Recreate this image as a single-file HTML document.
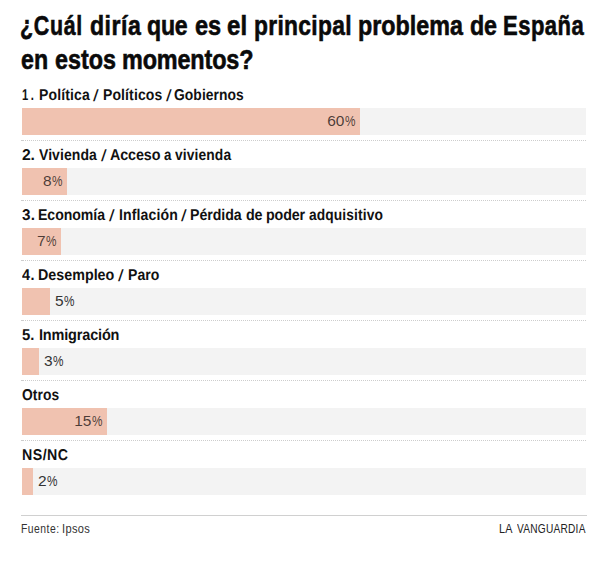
<!DOCTYPE html>
<html lang="es">
<head>
<meta charset="utf-8">
<title>¿Cuál diría que es el principal problema de España en estos momentos?</title>
<style>
  html, body { margin: 0; padding: 0; background: #fff; }
  body { width: 608px; height: 563px; position: relative; overflow: hidden;
         font-family: "Liberation Sans", Arial, sans-serif; color: #111; }
  .w { position: absolute; top: 0; white-space: nowrap; transform-origin: 0 0; }
  h1.title { position: absolute; left: 0; top: 9px; width: 608px; height: 68px; margin: 0;
             font-size: 28px; line-height: 34px; font-weight: 700; color: #0a0a0a;
             -webkit-text-stroke: 0.6px #0a0a0a; }
  h1.title .ln { position: absolute; left: 0; width: 608px; height: 34px; }
  .row { position: absolute; left: 22px; width: 564px; height: 60px; }
  .lbl { position: absolute; left: -22px; top: 1px; width: 608px; height: 16px;
         font-size: 15.6px; line-height: 16px; font-weight: 700; color: #111;
         text-rendering: geometricPrecision; }
  .sl { font-weight: 400; transform: translateY(0.6px) scale(1.3, 1.04); }
  .track { position: absolute; left: 0; top: 21px; width: 564px; height: 27px; background: #f3f3f3; }
  .bar { position: absolute; left: 0; top: 0; height: 27px; background: #f0c2b0; }
  .val { position: absolute; top: -1px; height: 27px; line-height: 27px; font-size: 15.5px;
         color: #333; white-space: nowrap; }
  .val.in { color: rgba(0,0,0,0.7); }
  .pc { display: inline-block; transform-origin: 0 50%; transform: scaleX(0.76); margin-right: -2.8px; }
  .sep { position: absolute; left: -1px; top: 53px; width: 566px; height: 1px;
         background: linear-gradient(to right, #cdcdcd 0 3px, transparent 3px) no-repeat,
                     repeating-linear-gradient(to right, #cdcdcd 0 1px, transparent 1px 2px); }
  .foot-line { position: absolute; left: 21px; top: 515px; width: 566px; height: 1px; background: #d0d0d0; }
  .foot { position: absolute; left: 0; top: 521px; width: 608px; height: 15px;
          font-size: 13px; line-height: 15px; color: #333; }
  .foot.brand { color: #222; }
</style>
</head>
<body>
  <h1 class="title">
    <div class="ln" style="top:0"><span class="w" style="left:20.28px;letter-spacing:0.89px;transform:scaleX(0.765)">¿Cuál</span> <span class="w" style="left:89.73px;letter-spacing:0.60px;transform:scaleX(0.825)">diría</span> <span class="w" style="left:147.22px;letter-spacing:-0.22px;transform:scaleX(0.825)">que</span> <span class="w" style="left:194.81px;letter-spacing:-0.21px;transform:scaleX(0.841)">es</span> <span class="w" style="left:227.26px;letter-spacing:0.16px;transform:scaleX(0.858)">el</span> <span class="w" style="left:253.99px;letter-spacing:0.40px;transform:scaleX(0.814)">principal</span> <span class="w" style="left:357.93px;letter-spacing:0.03px;transform:scaleX(0.832)">problema</span> <span class="w" style="left:469.98px;letter-spacing:-0.17px;transform:scaleX(0.831)">de</span> <span class="w" style="left:502.67px;letter-spacing:0.63px;transform:scaleX(0.786)">España</span></div>
    <div class="ln" style="top:34px"><span class="w" style="left:21.26px;transform:scaleX(0.828)">en</span> <span class="w" style="left:54.94px;transform:scaleX(0.833)">estos</span> <span class="w" style="left:122.18px;letter-spacing:-0.18px;transform:scaleX(0.836)">momentos?</span></div>
  </h1>

  <div class="row" style="top:87px">
    <div class="lbl"><span class="w" style="left:22.29px;letter-spacing:3.57px;transform:scaleX(0.721)">1.</span> <span class="w" style="left:38.78px;letter-spacing:0.17px;transform:scaleX(0.896)">Política</span> <span class="w sl" style="left:93.44px">/</span> <span class="w" style="left:102.88px;letter-spacing:0.12px;transform:scaleX(0.898)">Políticos</span> <span class="w sl" style="left:165.62px">/</span> <span class="w" style="left:174.45px;letter-spacing:0.06px;transform:scaleX(0.889)">Gobiernos</span></div>
    <div class="track"><div class="bar" style="width:338px"></div>
      <div class="val in" style="right:230.5px">60<span class="pc">%</span></div></div>
    <div class="sep"></div>
  </div>

  <div class="row" style="top:147px">
    <div class="lbl"><span class="w" style="left:21.92px;letter-spacing:-0.15px;transform:scaleX(1.006)">2.</span> <span class="w" style="left:39.17px;letter-spacing:0.09px;transform:scaleX(0.897)">Vivienda</span> <span class="w sl" style="left:100.77px">/</span> <span class="w" style="left:109.91px;letter-spacing:-0.14px;transform:scaleX(0.920)">Acceso</span> <span class="w" style="left:164.06px;transform:scaleX(0.852)">a</span> <span class="w" style="left:175.35px;letter-spacing:0.12px;transform:scaleX(0.887)">vivienda</span></div>
    <div class="track"><div class="bar" style="width:45px"></div>
      <div class="val in" style="right:523.5px">8<span class="pc">%</span></div></div>
    <div class="sep"></div>
  </div>

  <div class="row" style="top:207px">
    <div class="lbl"><span class="w" style="left:21.93px;letter-spacing:0.15px;transform:scaleX(0.978)">3.</span> <span class="w" style="left:37.78px;letter-spacing:-0.03px;transform:scaleX(0.902)">Economía</span> <span class="w sl" style="left:109.02px">/</span> <span class="w" style="left:118.53px;letter-spacing:0.14px;transform:scaleX(0.902)">Inflación</span> <span class="w sl" style="left:180.75px">/</span> <span class="w" style="left:190.31px;letter-spacing:-0.05px;transform:scaleX(0.908)">Pérdida</span> <span class="w" style="left:245.69px;letter-spacing:-0.19px;transform:scaleX(0.917)">de</span> <span class="w" style="left:265.78px;letter-spacing:-0.13px;transform:scaleX(0.914)">poder</span> <span class="w" style="left:308.86px;letter-spacing:0.12px;transform:scaleX(0.884)">adquisitivo</span></div>
    <div class="track"><div class="bar" style="width:39px"></div>
      <div class="val in" style="right:529.5px">7<span class="pc">%</span></div></div>
    <div class="sep"></div>
  </div>

  <div class="row" style="top:267px">
    <div class="lbl"><span class="w" style="left:22.16px;letter-spacing:0.53px;transform:scaleX(0.926)">4.</span> <span class="w" style="left:38.23px;transform:scaleX(0.917)">Desempleo</span> <span class="w sl" style="left:118.06px">/</span> <span class="w" style="left:127.54px;letter-spacing:0.10px;transform:scaleX(0.899)">Paro</span></div>
    <div class="track"><div class="bar" style="width:28px"></div>
      <div class="val" style="left:33px">5<span class="pc">%</span></div></div>
    <div class="sep"></div>
  </div>

  <div class="row" style="top:327px">
    <div class="lbl"><span class="w" style="left:22.40px;letter-spacing:-0.03px;transform:scaleX(0.951)">5.</span> <span class="w" style="left:39.06px;letter-spacing:-0.18px;transform:scaleX(0.929)">Inmigración</span></div>
    <div class="track"><div class="bar" style="width:17px"></div>
      <div class="val" style="left:22px">3<span class="pc">%</span></div></div>
    <div class="sep"></div>
  </div>

  <div class="row" style="top:387px">
    <div class="lbl"><span class="w" style="left:21.79px;letter-spacing:0.07px;transform:scaleX(0.887)">Otros</span></div>
    <div class="track"><div class="bar" style="width:85px"></div>
      <div class="val in" style="right:483.5px">15<span class="pc">%</span></div></div>
    <div class="sep"></div>
  </div>

  <div class="row" style="top:447px">
    <div class="lbl"><span class="w" style="left:22.10px;letter-spacing:0.50px;transform:scaleX(0.911)">NS/NC</span></div>
    <div class="track"><div class="bar" style="width:11px"></div>
      <div class="val" style="left:16px">2<span class="pc">%</span></div></div>
  </div>

  <div class="foot-line"></div>
  <div class="foot"><span class="w" style="left:20.66px;letter-spacing:0.63px;transform:scaleX(0.797)">Fuente:</span> <span class="w" style="left:61.82px;letter-spacing:0.43px;transform:scaleX(0.851)">Ipsos</span></div>
  <div class="foot brand"><span class="w" style="left:499.38px;letter-spacing:0.46px;transform:scaleX(0.829)">LA</span> <span class="w" style="left:517.08px;letter-spacing:0.31px;transform:scaleX(0.779)">VANGUARDIA</span></div>
</body>
</html>
